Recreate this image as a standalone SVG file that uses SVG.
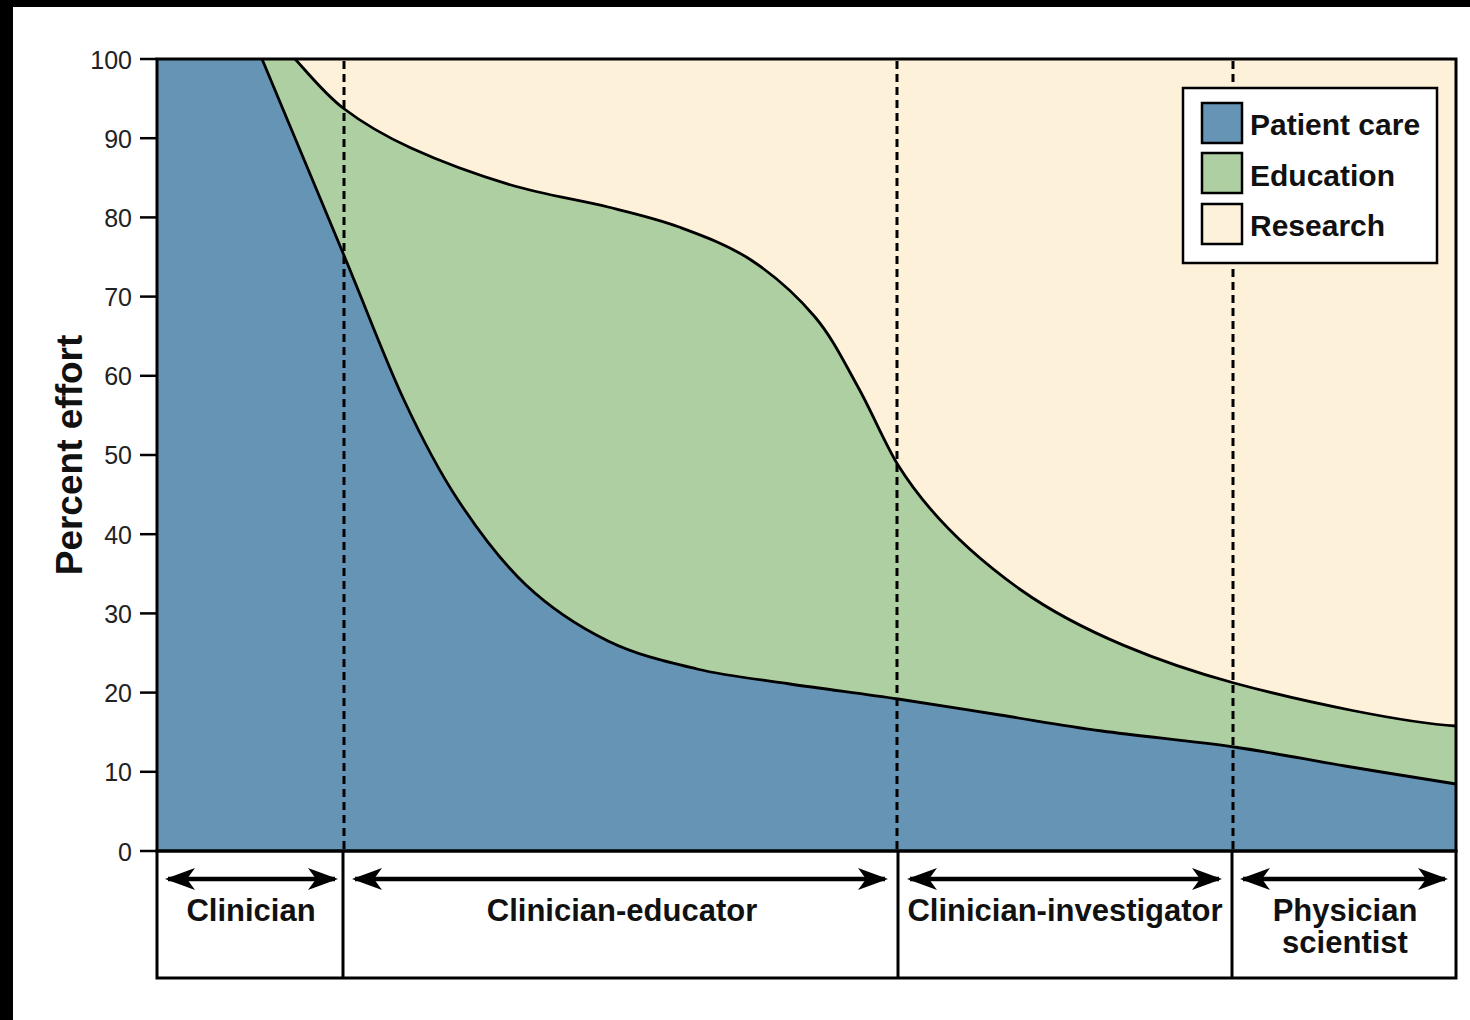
<svg xmlns="http://www.w3.org/2000/svg" width="1470" height="1020" viewBox="0 0 1470 1020">
<style>
.tick{font-family:"Liberation Sans",Arial,sans-serif;font-size:25px;fill:#222;text-anchor:end}
.lbl{font-family:"Liberation Sans",Arial,sans-serif;font-size:31px;font-weight:bold;fill:#111;text-anchor:middle}
.leg{font-family:"Liberation Sans",Arial,sans-serif;font-size:30px;font-weight:bold;fill:#111}
.curve{fill:none;stroke:#000;stroke-width:2.8;stroke-linejoin:round}
.dash{stroke:#000;stroke-width:3;stroke-dasharray:8 5}
.frame{fill:none;stroke:#000;stroke-width:3}
.arr{stroke:#000;stroke-width:4.5;marker-start:url(#ah);marker-end:url(#ah)}
</style>
<defs>
<marker id="ah" viewBox="0 0 30 24" refX="27" refY="12" markerWidth="30" markerHeight="24" markerUnits="userSpaceOnUse" orient="auto-start-reverse">
<path d="M0,1 L30,12 L0,23 L8,12 Z" fill="#000"/>
</marker>
</defs>
<rect x="0" y="0" width="1470" height="1020" fill="#fff"/>
<rect x="0" y="0" width="1470" height="7" fill="#000"/>
<rect x="0" y="0" width="13" height="1020" fill="#000"/>

<g id="plot">
<rect x="157" y="59" width="1299" height="792" fill="#fef1da"/>
<path id="education-area" fill="#aecfa1" d="M295,59 C303,67.2 323.7,93.2 343,108 C362.3,122.8 383,135.2 411,148 C439,160.8 478.2,175.2 511,185 C543.8,194.8 580,200 608,207 C636,214 655.2,218.2 679,227 C702.8,235.8 728.3,245 751,260 C773.7,275 797.2,295.8 815,317 C832.8,338.2 844.2,362.3 858,387 C871.8,411.7 885,444 898,465 C933,521 981,561.6 1021,590 C1081,632.6 1164,664 1234,683 C1304,702 1406,723 1456,726 L1456,851 L157,851 L157,59 Z"/>
<path id="patient-area" fill="#6594b4" d="M157,59 L262,59 C275.5,91.3 319.3,196.2 343,253 C366.7,309.8 384.8,358.8 404,400 C423.2,441.2 437.7,469.2 458,500 C478.3,530.8 501,561.5 526,585 C551,608.5 579.5,627 608,641 C636.5,655 666.7,661.8 697,669 C727.3,676.2 756.5,679 790,684 C823.5,689 863,693.8 898,699 C933,704.2 966,709.7 1000,715 C1034,720.3 1063,725.7 1102,731 C1141,736.3 1193.5,741.2 1234,747 C1274.5,752.8 1308,759.8 1345,766 C1382,772.2 1437.5,781 1456,784 L1456,851 L157,851 Z"/>
<path class="curve" d="M295,59 C303,67.2 323.7,93.2 343,108 C362.3,122.8 383,135.2 411,148 C439,160.8 478.2,175.2 511,185 C543.8,194.8 580,200 608,207 C636,214 655.2,218.2 679,227 C702.8,235.8 728.3,245 751,260 C773.7,275 797.2,295.8 815,317 C832.8,338.2 844.2,362.3 858,387 C871.8,411.7 885,444 898,465 C933,521 981,561.6 1021,590 C1081,632.6 1164,664 1234,683 C1304,702 1406,723 1456,726"/>
<path class="curve" d="M262,59 C275.5,91.3 319.3,196.2 343,253 C366.7,309.8 384.8,358.8 404,400 C423.2,441.2 437.7,469.2 458,500 C478.3,530.8 501,561.5 526,585 C551,608.5 579.5,627 608,641 C636.5,655 666.7,661.8 697,669 C727.3,676.2 756.5,679 790,684 C823.5,689 863,693.8 898,699 C933,704.2 966,709.7 1000,715 C1034,720.3 1063,725.7 1102,731 C1141,736.3 1193.5,741.2 1234,747 C1274.5,752.8 1308,759.8 1345,766 C1382,772.2 1437.5,781 1456,784"/>
<line class="dash" x1="344" y1="61" x2="344" y2="849"/>
<line class="dash" x1="897" y1="61" x2="897" y2="849"/>
<line class="dash" x1="1233" y1="61" x2="1233" y2="849"/>
<rect class="frame" x="157" y="59" width="1299" height="792"/>
</g>

<g id="y-axis">
<g stroke="#000" stroke-width="2.5">
<line x1="140" y1="59" x2="157" y2="59"/>
<line x1="140" y1="138.2" x2="157" y2="138.2"/>
<line x1="140" y1="217.4" x2="157" y2="217.4"/>
<line x1="140" y1="296.6" x2="157" y2="296.6"/>
<line x1="140" y1="375.8" x2="157" y2="375.8"/>
<line x1="140" y1="455" x2="157" y2="455"/>
<line x1="140" y1="534.2" x2="157" y2="534.2"/>
<line x1="140" y1="613.4" x2="157" y2="613.4"/>
<line x1="140" y1="692.6" x2="157" y2="692.6"/>
<line x1="140" y1="771.8" x2="157" y2="771.8"/>
<line x1="140" y1="851" x2="157" y2="851"/>
</g>
<text class="tick" x="132" y="69">100</text>
<text class="tick" x="132" y="148">90</text>
<text class="tick" x="132" y="227">80</text>
<text class="tick" x="132" y="306">70</text>
<text class="tick" x="132" y="385">60</text>
<text class="tick" x="132" y="464">50</text>
<text class="tick" x="132" y="544">40</text>
<text class="tick" x="132" y="623">30</text>
<text class="tick" x="132" y="702">20</text>
<text class="tick" x="132" y="781">10</text>
<text class="tick" x="132" y="861">0</text>
<text transform="translate(82,455) rotate(-90)" text-anchor="middle" font-family="Liberation Sans, Arial, sans-serif" font-size="37" font-weight="bold" fill="#111">Percent effort</text>
</g>

<g id="legend">
<rect x="1183" y="88" width="254" height="175" fill="#fff" stroke="#000" stroke-width="2.5"/>
<rect x="1202" y="103" width="40" height="40" fill="#6594b4" stroke="#000" stroke-width="2.5"/>
<rect x="1202" y="153" width="40" height="40" fill="#aecfa1" stroke="#000" stroke-width="2.5"/>
<rect x="1202" y="204" width="40" height="40" fill="#fef1da" stroke="#000" stroke-width="2.5"/>
<text class="leg" x="1250" y="135">Patient care</text>
<text class="leg" x="1250" y="186">Education</text>
<text class="leg" x="1250" y="236">Research</text>
</g>

<g id="roles">
<rect class="frame" x="157" y="851" width="1299" height="127" fill="#fff"/>
<line stroke="#000" stroke-width="3" x1="343" y1="851" x2="343" y2="978"/>
<line stroke="#000" stroke-width="3" x1="898" y1="851" x2="898" y2="978"/>
<line stroke="#000" stroke-width="3" x1="1232" y1="851" x2="1232" y2="978"/>
</g>

<g id="connectors">
<line class="arr" x1="168" y1="879" x2="335" y2="879"/>
<line class="arr" x1="355" y1="879" x2="885" y2="879"/>
<line class="arr" x1="910" y1="879" x2="1219" y2="879"/>
<line class="arr" x1="1243" y1="879" x2="1445" y2="879"/>
</g>

<g id="role-labels">
<text class="lbl" x="251" y="921">Clinician</text>
<text class="lbl" x="622" y="921">Clinician-educator</text>
<text class="lbl" x="1065" y="921">Clinician-investigator</text>
<text class="lbl" x="1345" y="921">Physician</text>
<text class="lbl" x="1345" y="953">scientist</text>
</g>
</svg>
